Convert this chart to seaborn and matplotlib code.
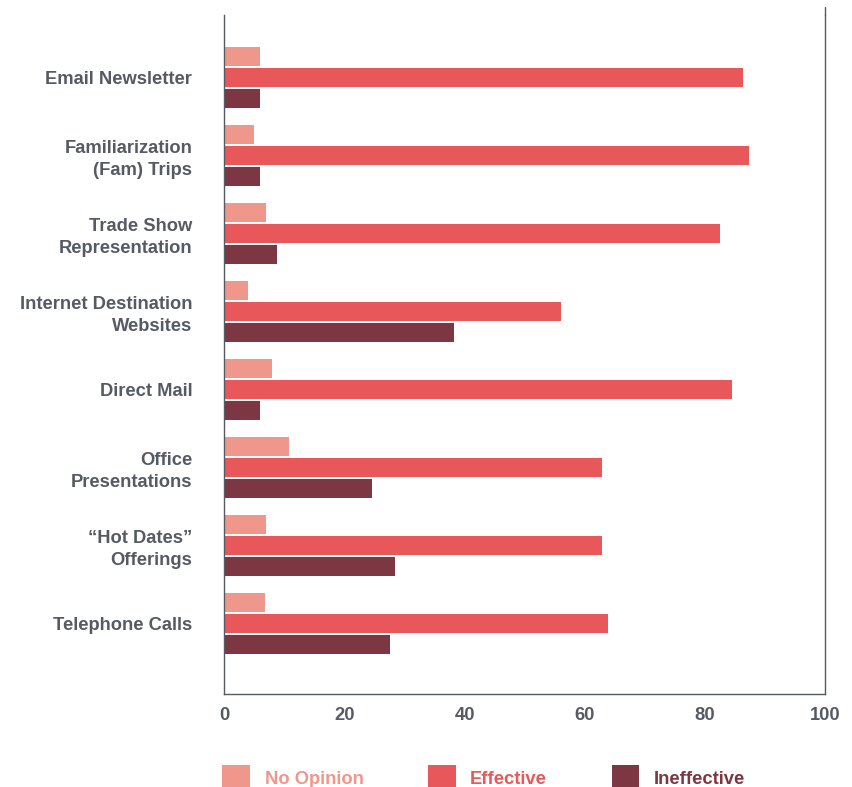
import numpy as np
import pandas as pd
import seaborn as sns
import matplotlib.pyplot as plt
from matplotlib.lines import Line2D

# Marketing channels and the share of respondents rating each one
channels = [
    "Email Newsletter",
    "Familiarization\n(Fam) Trips",
    "Trade Show\nRepresentation",
    "Internet Destination\nWebsites",
    "Direct Mail",
    "Office\nPresentations",
    "\u201cHot Dates\u201d\nOfferings",
    "Telephone Calls",
]
no_opinion = [6.0, 4.9, 6.9, 3.9, 7.9, 10.8, 6.9, 6.8]
effective = [86.3, 87.3, 82.5, 56.1, 84.5, 62.9, 62.9, 63.9]
ineffective = [5.9, 5.9, 8.8, 38.2, 5.9, 24.6, 28.4, 27.6]

series = ["No Opinion", "Effective", "Ineffective"]
colors = ["#F0978B", "#E8575A", "#7D3743"]
x_ticks = [0, 20, 40, 60, 80, 100]

text_color = "#555A63"
spine_color = "#555A62"

sns.set_theme(style="white")
plt.rcParams["font.family"] = ["Liberation Sans", "DejaVu Sans"]
plt.rcParams["font.weight"] = "bold"

df = pd.DataFrame({
    "channel": channels * 3,
    "rating": np.repeat(series, len(channels)),
    "percent": no_opinion + effective + ineffective,
})

fig = plt.figure(figsize=(8.53, 7.87), dpi=100)
ax = fig.add_axes([224.3 / 853, 1 - 694 / 787, (825 - 224.3) / 853, (694 - 15) / 787])

sns.barplot(
    data=df, y="channel", x="percent", hue="rating",
    order=channels, hue_order=series, palette=colors,
    orient="h", width=0.81, gap=0.1, saturation=1, errorbar=None,
    linewidth=0, ax=ax,
)

ax.set_xlim(0, 100)
ax.set_ylim(len(channels) - 1 + 0.904, -0.801)
ax.set_xticks(x_ticks)
ax.set_xticklabels([str(t) for t in x_ticks])
ax.set_xlabel("")
ax.set_ylabel("")

fs = 13.25
ax.tick_params(axis="x", direction="in", length=9.6, width=0.9,
               color="#8C9096", pad=9, labelsize=fs, labelcolor=text_color)
ax.tick_params(axis="y", length=0, pad=23, labelsize=fs, labelcolor=text_color)
for lab in ax.get_yticklabels():
    lab.set_fontweight("bold")
    lab.set_linespacing(1.37)
for lab in ax.get_xticklabels():
    lab.set_fontweight("bold")

ax.spines["top"].set_visible(False)
for side in ("left", "bottom", "right"):
    ax.spines[side].set_color(spine_color)
    ax.spines[side].set_linewidth(1.0)
# the right frame line rises a little above the plotting area
ax.add_line(Line2D([1, 1], [1, 1.012], transform=ax.transAxes,
                   color=spine_color, linewidth=1.0, clip_on=False))

handles, labels = ax.get_legend_handles_labels()
if ax.get_legend() is not None:
    ax.get_legend().remove()
leg = fig.legend(
    handles, labels, loc="lower left", bbox_to_anchor=(222.3 / 853, -3 / 787),
    ncol=3, frameon=False, fontsize=fs, handlelength=1.52, handleheight=1.685,
    handletextpad=0.78, columnspacing=3.5, borderpad=0, borderaxespad=0,
    labelcolor=colors, prop={"weight": "bold", "size": fs},
)

fig.savefig("out.png", dpi=100)
